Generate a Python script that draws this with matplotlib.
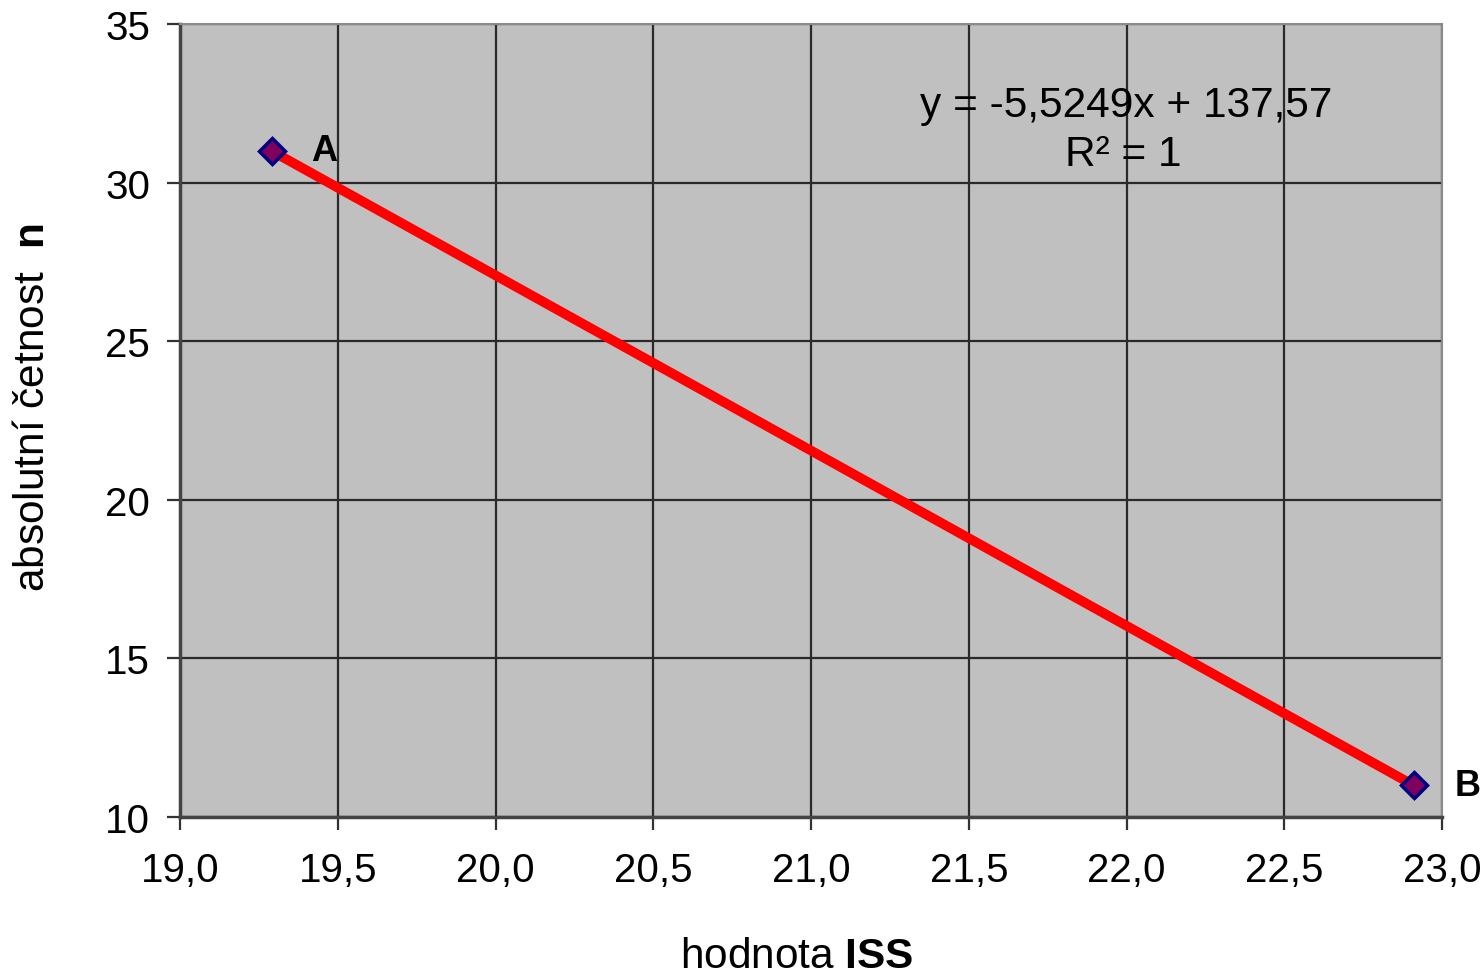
import numpy as np
import matplotlib
matplotlib.use('Agg')
import matplotlib.pyplot as plt

plt.rcParams['font.family'] = ['Liberation Sans', 'DejaVu Sans']
plt.rcParams['mathtext.fontset'] = 'custom'
plt.rcParams['mathtext.rm'] = 'Liberation Sans'
plt.rcParams['mathtext.bf'] = 'Liberation Sans:bold'

# data
iss = [19.29, 22.91]
counts = [31, 11]
point_names = ['A', 'B']
x_ticks = [19.0, 19.5, 20.0, 20.5, 21.0, 21.5, 22.0, 22.5, 23.0]
y_ticks = [10, 15, 20, 25, 30, 35]

fig = plt.figure(figsize=(14.84, 9.78), dpi=100)
ax = fig.add_axes([0.1213, 0.1636, 0.8504, 0.8108])
ax.set_facecolor('#c0c0c0')

# linear trend
k, q = np.polyfit(iss, counts, 1)
xs = np.array(iss)
ax.plot(xs, k * xs + q, color='#ff0000', lw=7, solid_capstyle='butt', zorder=3)
ax.plot(iss, counts, ls='none', marker='D', ms=13, mfc='#800060',
        mec='#000080', mew=2.5, zorder=4)

ax.text(iss[0] + 0.125, counts[0], point_names[0], fontsize=26,
        fontweight='bold', va='center', ha='left')
ax.text(iss[1] + 0.13, counts[1], point_names[1], fontsize=26,
        fontweight='bold', va='center', ha='left')

eq = 'y = %sx + %s' % (('%.4f' % k).replace('.', ','), ('%.2f' % q).replace('.', ','))
ax.text(22.0, 32.45, eq, fontsize=30.5, ha='center', va='center')
ax.text(21.99, 30.9, 'R² = 1', fontsize=30.5, ha='center', va='center')

ax.set_xlim(19.0, 23.0)
ax.set_ylim(10, 35)
ax.set_xticks(x_ticks)
ax.set_yticks(y_ticks)
ax.set_xticklabels([('%.1f' % v).replace('.', ',') for v in x_ticks])
ax.grid(True, color='#2a2a2a', lw=1.6)
ax.set_axisbelow(True)
ax.tick_params(labelsize=29, length=9.5, width=1.6, color='#333333')
ax.tick_params(axis='x', pad=15)
ax.tick_params(axis='y', pad=12)

for s in ['left', 'bottom']:
    ax.spines[s].set_color('#444444')
    ax.spines[s].set_linewidth(2.5)
for s in ['top', 'right']:
    ax.spines[s].set_color('#8a8a8a')
    ax.spines[s].set_linewidth(1.5)

ax.set_xlabel(r'hodnota $\mathbf{ISS}$', fontsize=30.5)
ax.set_ylabel(r'absolutní četnost  $\mathbf{n}$', fontsize=30.5)
ax.xaxis.set_label_coords(0.489, -0.15)
ax.yaxis.set_label_coords(-0.1006, 0.518)

fig.savefig('out.png', dpi=100, facecolor='white')
